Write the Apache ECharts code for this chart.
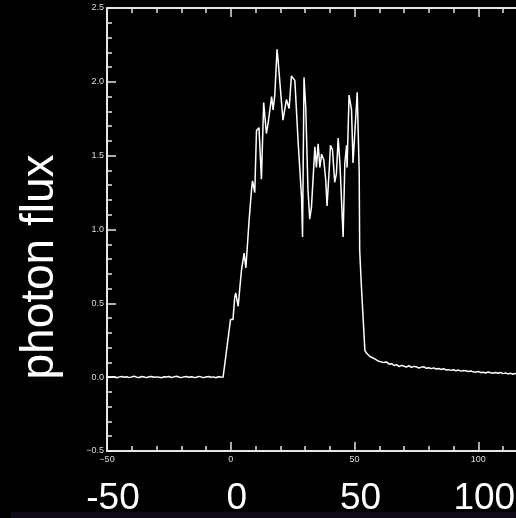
<!DOCTYPE html>
<html>
<head>
<meta charset="utf-8">
<script src="https://cdn.jsdelivr.net/npm/echarts@6/dist/echarts.min.js"></script>
<style>
  html, body { margin: 0; padding: 0; background: #000; }
  #chart { width: 516px; height: 518px; }
</style>
</head>
<body>
<div id="chart"></div>
<script>
// positions (x) and photon flux
const position = [
  -50,-49,-48,-47,-46,-45,-44,-43,-42,-41,-40,-39,-38,-37,-36,-35,-34,-33,-32,-31,
  -30,-29,-28,-27,-26,-25,-24,-23,-22,-21,-20,-19,-18,-17,-16,-15,-14,-13,-12,-11,
  -10,-9,-8,-7,-6,-5,-4,
  -3.1,-1.7,-0.1,0.9,1.6,2.0,3.0,4.3,5.0,5.4,6.1,6.6,7.4,8.4,8.8,9.7,10.4,11.4,12.4,13.3,
  14.4,15.1,16.5,17.1,17.8,18.7,19.1,21.1,22.5,23.6,24.5,25.2,25.9,27.2,28.6,29.0,29.6,30.3,
  31.2,31.9,32.6,34.0,34.6,35.3,36.0,36.7,37.6,38.4,38.9,39.7,40.3,41.1,42.0,42.7,43.4,44.1,
  44.7,45.4,46.1,46.8,47.0,47.8,48.8,49.4,50.1,51.1,51.9,52.1,52.8,54.2,55.0,56.2,57.0,57.5,
  58.2,59.5,60.2,61.5,
  62,63,64,65,66,67,68,69,70,71,72,73,74,75,76,77,78,79,80,81,82,83,84,85,86,87,88,89,90,
  91,92,93,94,95,96,97,98,99,100,101,102,103,104,105,106,107,108,109,110,111,112,113,114,
  115,116,117,118,119,120
];
const flux = [
  0.004,-0.002,0.003,0.001,-0.004,0.002,0.005,-0.001,0.003,-0.003,0.002,0.006,0.000,-0.002,0.004,0.001,-0.003,0.003,0.005,-0.001,
  0.002,0.000,-0.004,0.003,0.001,0.004,-0.002,0.002,0.006,0.001,-0.003,0.002,0.004,-0.001,0.003,0.000,-0.002,0.005,0.002,-0.003,
  0.001,0.004,-0.001,0.002,-0.004,0.003,0.001,
  0.00,0.18,0.39,0.39,0.54,0.57,0.48,0.72,0.73,0.84,0.74,0.86,1.06,1.27,1.33,1.25,1.67,1.69,1.34,1.86,
  1.65,1.72,1.90,1.81,1.91,2.22,2.15,1.74,1.88,1.82,2.04,2.04,2.01,1.60,1.22,0.95,2.03,1.83,
  1.27,1.07,1.15,1.56,1.42,1.58,1.42,1.51,1.47,1.33,1.16,1.38,1.57,1.54,1.32,1.38,1.62,1.45,
  1.22,0.95,1.45,1.57,1.42,1.91,1.81,1.45,1.45,1.93,1.39,0.86,0.61,0.18,0.16,0.14,0.13,0.13,
  0.12,0.11,0.10,0.10,
  0.094,0.102,0.088,0.091,0.079,0.085,0.072,0.080,0.074,0.069,0.078,0.066,0.073,0.070,0.062,0.068,0.071,0.060,0.064,0.058,
  0.063,0.055,0.059,0.052,0.057,0.049,0.051,0.046,0.050,0.044,0.048,0.041,0.045,0.043,0.038,0.042,0.036,0.034,0.039,0.031,
  0.033,0.028,0.035,0.030,0.026,0.031,0.027,0.032,0.024,0.029,0.022,0.027,0.020,0.025,0.023,0.019,0.024,0.021,0.018
];
const xRange = [-50, 150];
const yRange = [-0.5, 2.5];
const yLabel = 'photon flux';

const axisColor = '#e6e6e6';
const fontFamily = '"Liberation Sans", Arial, sans-serif';
const minus = v => String(v).replace('-', '\u2212');

let myChart = echarts.init(document.getElementById('chart'));
let option = {
  backgroundColor: '#000',
  animation: false,
  grid: { left: 107, top: 8, height: 443, width: 495, containLabel: false, outerBoundsMode: 'none' },
  xAxis: [
    {
      type: 'value', min: xRange[0], max: xRange[1], interval: 50, position: 'bottom',
      axisLine: { show: true, onZero: false, lineStyle: { color: axisColor, width: 2 } },
      axisTick: { show: true, inside: true, length: 9, lineStyle: { color: axisColor, width: 1.5 } },
      minorTick: { show: true, splitNumber: 5, length: 5, lineStyle: { color: axisColor, width: 1.5 } },
      splitLine: { show: false },
      axisLabel: { color: '#dddddd', fontSize: 9, fontFamily: fontFamily, margin: 4, formatter: minus, showMaxLabel: false }
    },
    {
      type: 'value', min: xRange[0], max: xRange[1], interval: 50, position: 'top',
      axisLine: { show: true, onZero: false, lineStyle: { color: axisColor, width: 2 } },
      axisTick: { show: true, inside: true, length: 9, lineStyle: { color: axisColor, width: 1.5 } },
      minorTick: { show: true, splitNumber: 5, length: 5, lineStyle: { color: axisColor, width: 1.5 } },
      splitLine: { show: false },
      axisLabel: { show: false }
    },
    {
      type: 'value', min: xRange[0], max: xRange[1], interval: 50, position: 'bottom',
      axisLine: { show: false }, axisTick: { show: false }, splitLine: { show: false },
      axisLabel: {
        color: '#ffffff', fontSize: 37, fontFamily: fontFamily, margin: 48,
        verticalAlign: 'middle', padding: [0, 0, 0, 12], showMaxLabel: false
      }
    }
  ],
  yAxis: {
    type: 'value', min: yRange[0], max: yRange[1], interval: 0.5,
    axisLine: { show: true, onZero: false, lineStyle: { color: axisColor, width: 2 } },
    axisTick: { show: true, inside: true, length: 9, lineStyle: { color: axisColor, width: 1.5 } },
    minorTick: { show: true, splitNumber: 5, length: 5, lineStyle: { color: axisColor, width: 1.5 } },
    splitLine: { show: false },
    axisLabel: { color: '#dddddd', fontSize: 9, fontFamily: fontFamily, margin: 3, formatter: v => minus(v.toFixed(1)) }
  },
  graphic: [
    {
      type: 'text', x: 40, y: 267, rotation: Math.PI / 2,
      style: { text: yLabel, fill: '#ffffff', font: '46px ' + fontFamily, align: 'center', verticalAlign: 'middle' }
    },
    { type: 'rect', shape: { x: 11, y: 512, width: 505, height: 6 }, style: { fill: '#120a1a' }, z: 10 }
  ],
  series: [{
    type: 'line',
    xAxisIndex: 0,
    data: position.map((x, i) => [x, flux[i]]),
    showSymbol: false,
    lineStyle: { color: '#ffffff', width: 1.5 },
    clip: true
  }]
};
myChart.setOption(option);
</script>
</body>
</html>
